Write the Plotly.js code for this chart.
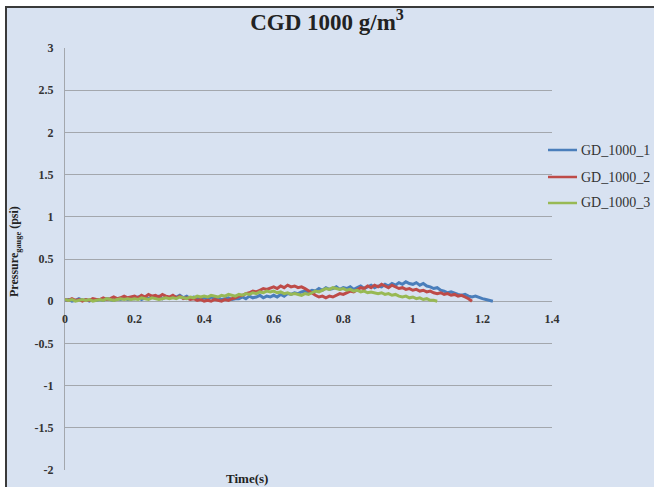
<!DOCTYPE html>
<html>
<head>
<meta charset="utf-8">
<script src="https://cdn.plot.ly/plotly-3.0.1.min.js"></script>
<style>
  html, body { margin: 0; padding: 0; background: #ffffff; width: 654px; height: 487px; overflow: hidden; }
  #bg { position: absolute; left: 5px; top: 6px; width: 649px; height: 481px; background: #d8e2f1; border-left: 2px solid #3a3a3a; border-top: 2px solid #3a3a3a; box-sizing: border-box; }
  #chart { position: absolute; left: 0; top: 0; width: 654px; height: 487px; }
</style>
</head>
<body>
<div id="bg"></div>
<div id="chart"></div>
<script>
// Series names
const seriesNames = ["GD_1000_1", "GD_1000_2", "GD_1000_3"];
// Sampling: start time and step (s)
const timeStart = 0;
const timeStep = 0.01;

// GD_1000_1 pressure (psi), t = 0 .. 1.23 s
const gd1 = [
  0.01,0.02,0.00,0.01,0.03,0.01,0.02,0.00,0.02,0.01,
  0.02,0.01,0.03,0.02,0.01,0.03,0.02,0.04,0.02,0.03,
  0.03,0.05,0.02,0.04,0.03,0.05,0.04,0.06,0.03,0.05,
  0.04,0.06,0.05,0.07,0.04,0.06,0.03,0.05,0.04,0.03,
  0.04,0.02,0.05,0.03,0.04,0.02,0.03,0.04,0.02,0.03,
  0.03,0.05,0.03,0.06,0.04,0.05,0.07,0.04,0.06,0.05,
  0.07,0.05,0.08,0.06,0.09,0.08,0.10,0.09,0.11,0.12,
  0.11,0.13,0.12,0.15,0.13,0.16,0.14,0.15,0.17,0.14,
  0.16,0.15,0.17,0.14,0.16,0.18,0.15,0.17,0.19,0.16,
  0.18,0.17,0.20,0.18,0.21,0.19,0.22,0.20,0.23,0.21,
  0.20,0.22,0.19,0.21,0.18,0.17,0.15,0.16,0.13,0.12,
  0.10,0.11,0.09,0.08,0.07,0.08,0.06,0.05,0.06,0.04,
  0.03,0.02,0.01,0.00
];
// GD_1000_2 pressure (psi), t = 0 .. 1.17 s
const gd2 = [
  0.02,0.01,0.03,0.01,0.02,0.00,0.02,0.01,0.03,0.02,
  0.02,0.04,0.02,0.03,0.05,0.03,0.04,0.06,0.04,0.05,
  0.06,0.04,0.07,0.05,0.08,0.06,0.07,0.05,0.08,0.06,
  0.05,0.07,0.04,0.06,0.03,0.04,0.02,0.03,0.01,0.02,
  0.00,0.01,0.00,0.02,0.01,0.00,0.02,0.01,0.03,0.04,
  0.06,0.07,0.09,0.10,0.12,0.11,0.13,0.15,0.14,0.16,
  0.17,0.15,0.18,0.16,0.19,0.17,0.18,0.16,0.17,0.15,
  0.12,0.10,0.07,0.05,0.06,0.04,0.06,0.05,0.07,0.09,
  0.08,0.10,0.12,0.11,0.14,0.16,0.15,0.18,0.16,0.19,
  0.17,0.20,0.18,0.16,0.19,0.17,0.15,0.16,0.14,0.15,
  0.13,0.14,0.12,0.13,0.11,0.12,0.10,0.09,0.10,0.08,
  0.09,0.07,0.08,0.06,0.07,0.05,0.03,0.00
];
// GD_1000_3 pressure (psi), t = 0 .. 1.07 s
const gd3 = [
  0.02,0.01,0.02,0.00,0.01,0.02,0.01,0.02,0.00,0.01,
  0.02,0.01,0.03,0.02,0.01,0.02,0.03,0.02,0.03,0.02,
  0.03,0.02,0.04,0.03,0.02,0.04,0.03,0.02,0.03,0.04,
  0.03,0.04,0.03,0.05,0.04,0.03,0.05,0.04,0.06,0.05,
  0.06,0.05,0.07,0.06,0.05,0.07,0.06,0.08,0.07,0.06,
  0.08,0.07,0.09,0.08,0.10,0.09,0.11,0.10,0.12,0.11,
  0.12,0.10,0.11,0.09,0.10,0.08,0.09,0.08,0.07,0.09,
  0.08,0.10,0.12,0.11,0.13,0.15,0.14,0.16,0.15,0.14,
  0.15,0.13,0.14,0.12,0.13,0.11,0.12,0.10,0.11,0.10,
  0.09,0.10,0.08,0.09,0.07,0.08,0.06,0.05,0.06,0.04,
  0.05,0.03,0.04,0.02,0.03,0.01,0.01,0.00
];

// Axis ticks
const yTickVals = [-2, -1.5, -1, -0.5, 0, 0.5, 1, 1.5, 2, 2.5, 3];
const yTickText = ["-2", "-1.5", "-1", "-0.5", "0", "0.5", "1", "1.5", "2", "2.5", "3"];
const xTickVals = [0, 0.2, 0.4, 0.6, 0.8, 1, 1.2, 1.4];
const xTickText = ["0", "0.2", "0.4", "0.6", "0.8", "1", "1.2", "1.4"];

const colors = ["#4a7ebb", "#be4b48", "#98b954"];
const seriesData = [gd1, gd2, gd3];

const traces = seriesData.map((ys, i) => ({
  type: "scatter",
  mode: "lines",
  name: seriesNames[i],
  x0: timeStart,
  dx: timeStep,
  y: ys,
  showlegend: false,
  line: { color: colors[i], width: 3 }
}));

const serif = '"Liberation Serif", "Times New Roman", serif';

// Legend drawn in pixel terms relative to the plot area (plot: x 65..552, y 48..470)
const plotL = 65, plotW = 487, plotB = 470, plotH = 422;
const px = v => (v - plotL) / plotW;
const py = v => (plotB - v) / plotH;
const legendRowsY = [150, 177, 203];

const legendShapes = seriesNames.map((n, i) => ({
  type: "line", xref: "paper", yref: "paper",
  x0: px(548), x1: px(577), y0: py(legendRowsY[i]), y1: py(legendRowsY[i]),
  line: { color: colors[i], width: 2.5 }
}));
const legendTexts = seriesNames.map((n, i) => ({
  text: n, xref: "paper", yref: "paper",
  x: px(579), y: py(legendRowsY[i]),
  xanchor: "left", yanchor: "middle", showarrow: false,
  font: { family: serif, color: "#333333", size: 14 }
}));

const layout = {
  width: 654,
  height: 487,
  margin: { l: 65, r: 102, t: 48, b: 17 },
  paper_bgcolor: "rgba(0,0,0,0)",
  plot_bgcolor: "rgba(0,0,0,0)",
  showlegend: false,
  title: {
    text: "<b>CGD 1000 g/m<sup>3</sup></b>",
    font: { family: serif, color: "#222222", size: 23 },
    xref: "container", x: 0.5, xanchor: "center",
    yref: "container", y: 1 - 22 / 487, yanchor: "middle"
  },
  xaxis: {
    range: [0, 1.4],
    tickvals: xTickVals,
    ticktext: xTickText,
    showgrid: false,
    zeroline: false,
    showline: false,
    ticks: "",
    anchor: "free",
    position: 0.4,
    ticklabelstandoff: 9,
    tickfont: { family: serif, color: "#333333", size: 12, weight: "bold" }
  },
  yaxis: {
    range: [-2, 3],
    tickvals: yTickVals,
    ticktext: yTickText,
    showgrid: true,
    gridcolor: "#a3a7ad",
    gridwidth: 1,
    zeroline: true,
    zerolinecolor: "#a3a7ad",
    zerolinewidth: 1,
    showline: true,
    linecolor: "#a3a7ad",
    linewidth: 1,
    ticks: "",
    ticklabelstandoff: 8,
    tickfont: { family: serif, color: "#333333", size: 12, weight: "bold" }
  },
  shapes: legendShapes,
  annotations: [
    {
      text: "<b>Pressure<sub>gauge</sub> (psi)</b>",
      xref: "paper", yref: "paper",
      x: px(15), y: py(252),
      xanchor: "center", yanchor: "middle",
      textangle: -90, showarrow: false,
      font: { family: serif, color: "#222222", size: 12 }
    },
    {
      text: "<b>Time(s)</b>",
      xref: "paper", yref: "paper",
      x: px(247), y: py(478),
      xanchor: "center", yanchor: "middle",
      showarrow: false,
      font: { family: serif, color: "#222222", size: 13 }
    }
  ].concat(legendTexts)
};

Plotly.newPlot("chart", traces, layout, { displayModeBar: false, staticPlot: true });
</script>
</body>
</html>
